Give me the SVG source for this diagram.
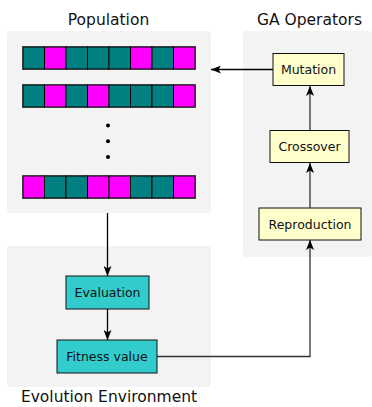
<svg xmlns="http://www.w3.org/2000/svg" width="372" height="407" viewBox="0 0 372 407">
  <style>
    .panel { fill: #f3f3f3; stroke: none; }
    .title { font-family: "DejaVu Sans", sans-serif; font-size: 15.5px; fill: #111; text-anchor: middle; }
    .label { font-family: "DejaVu Sans", sans-serif; font-size: 12.5px; fill: #111; text-anchor: middle; }
    .op { fill: #ffffcc; stroke: #111; stroke-width: 1; }
    .env { fill: #33cccc; stroke: #111; stroke-width: 1; }
    .t { fill: #008080; stroke: #000; stroke-width: 1; }
    .m { fill: #ff00ff; stroke: #000; stroke-width: 1; }
    .rowframe { fill: none; stroke: #777; stroke-width: 2; }
    .link { fill: none; stroke: #000; stroke-width: 1.3; }
    .link2 { fill: none; stroke: #333; stroke-width: 1.3; }
  </style>
  <defs>
    <marker id="head" viewBox="0 0 10 8" refX="10" refY="4" markerWidth="10" markerHeight="8" markerUnits="userSpaceOnUse" orient="auto">
      <path d="M0,0 L10,4 L0,8 L2.5,4 Z" fill="#000"/>
    </marker>
  </defs>

  <!-- panels -->
  <rect class="panel" x="7" y="31" width="204" height="182" rx="3"/>
  <rect class="panel" x="243" y="31" width="129" height="226" rx="3"/>
  <rect class="panel" x="7" y="246" width="204" height="141" rx="3"/>

  <text class="title" x="108.5" y="25">Population</text>
  <text class="title" x="309.5" y="25">GA Operators</text>
  <text class="title" x="109" y="402">Evolution Environment</text>

  <!-- population chromosomes -->
  <g id="chromosome1">
    <rect class="rowframe" x="23" y="47" width="172" height="22"/>
    <rect class="t" x="23" y="47" width="21.5" height="22"/>
    <rect class="m" x="44.5" y="47" width="21.5" height="22"/>
    <rect class="t" x="66" y="47" width="21.5" height="22"/>
    <rect class="t" x="87.5" y="47" width="21.5" height="22"/>
    <rect class="t" x="109" y="47" width="21.5" height="22"/>
    <rect class="m" x="130.5" y="47" width="21.5" height="22"/>
    <rect class="t" x="152" y="47" width="21.5" height="22"/>
    <rect class="m" x="173.5" y="47" width="21.5" height="22"/>
  </g>
  <g id="chromosome2">
    <rect class="rowframe" x="23" y="85" width="172" height="22"/>
    <rect class="t" x="23" y="85" width="21.5" height="22"/>
    <rect class="m" x="44.5" y="85" width="21.5" height="22"/>
    <rect class="t" x="66" y="85" width="21.5" height="22"/>
    <rect class="m" x="87.5" y="85" width="21.5" height="22"/>
    <rect class="t" x="109" y="85" width="21.5" height="22"/>
    <rect class="t" x="130.5" y="85" width="21.5" height="22"/>
    <rect class="t" x="152" y="85" width="21.5" height="22"/>
    <rect class="m" x="173.5" y="85" width="21.5" height="22"/>
  </g>
  <g id="ellipsis">
    <circle cx="108" cy="125.5" r="2" fill="#000"/>
    <circle cx="108" cy="141.3" r="2" fill="#000"/>
    <circle cx="108" cy="157" r="2" fill="#000"/>
  </g>
  <g id="chromosomeN">
    <rect class="rowframe" x="23" y="176" width="172" height="22"/>
    <rect class="m" x="23" y="176" width="21.5" height="22"/>
    <rect class="t" x="44.5" y="176" width="21.5" height="22"/>
    <rect class="t" x="66" y="176" width="21.5" height="22"/>
    <rect class="m" x="87.5" y="176" width="21.5" height="22"/>
    <rect class="m" x="109" y="176" width="21.5" height="22"/>
    <rect class="t" x="130.5" y="176" width="21.5" height="22"/>
    <rect class="t" x="152" y="176" width="21.5" height="22"/>
    <rect class="m" x="173.5" y="176" width="21.5" height="22"/>
  </g>

  <!-- connectors -->
  <g id="connectors">
    <path class="link" d="M107.5,213 L107.5,276" marker-end="url(#head)"/>
    <path class="link" d="M107.5,309 L107.5,340" marker-end="url(#head)"/>
    <path class="link2" d="M157,356.5 L310,356.5 L310,240" marker-end="url(#head)"/>
    <path class="link2" d="M310,208 L310,163" marker-end="url(#head)"/>
    <path class="link2" d="M310,130 L310,86" marker-end="url(#head)"/>
    <path class="link" d="M273,69.5 L211,69.5" marker-end="url(#head)"/>
  </g>

  <!-- operator nodes -->
  <g id="mutation">
    <rect class="op" x="273" y="53.5" width="71" height="32"/>
    <text class="label" x="308.5" y="74">Mutation</text>
  </g>
  <g id="crossover">
    <rect class="op" x="270" y="130.5" width="79" height="32"/>
    <text class="label" x="309.5" y="151">Crossover</text>
  </g>
  <g id="reproduction">
    <rect class="op" x="259" y="208" width="102" height="32"/>
    <text class="label" x="310" y="228.5">Reproduction</text>
  </g>

  <!-- environment nodes -->
  <g id="evaluation">
    <rect class="env" x="66" y="276" width="83" height="33"/>
    <text class="label" x="107.5" y="297">Evaluation</text>
  </g>
  <g id="fitness">
    <rect class="env" x="57" y="340" width="100" height="33"/>
    <text class="label" x="107" y="361">Fitness value</text>
  </g>
</svg>
